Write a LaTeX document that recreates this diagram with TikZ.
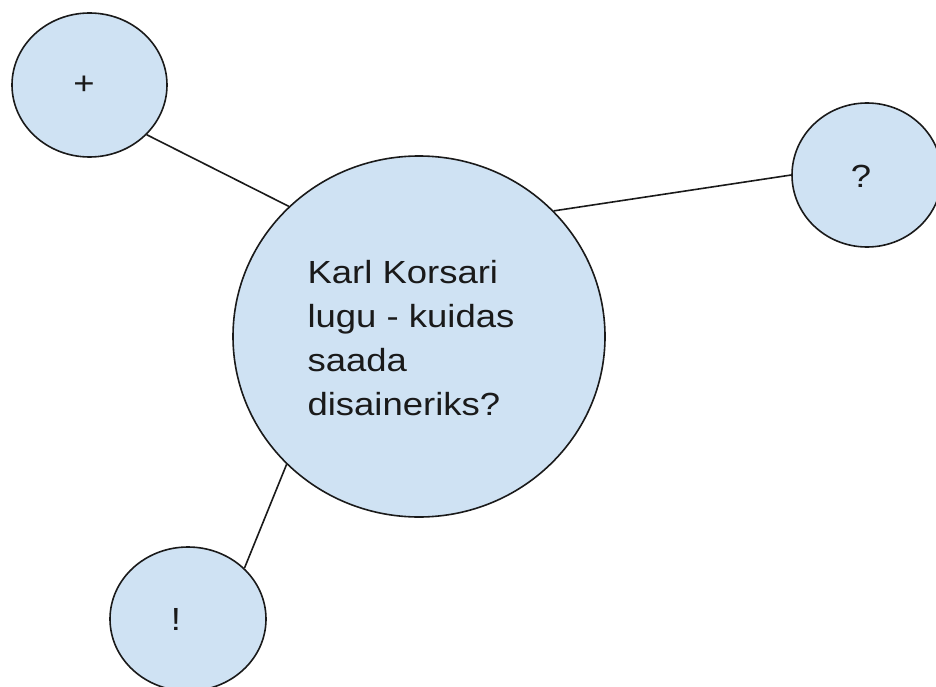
\documentclass[tikz,border=0pt]{standalone}
\usepackage{tikz}
\usepackage{xcolor}
\usepackage{fontspec}
\setmainfont{Liberation Sans}[FakeStretch=1.14]
\usetikzlibrary{shapes.geometric}
\definecolor{vdarkgray}{HTML}{1a1a1a}
\definecolor{vlightblue}{HTML}{cfe2f3}
\tikzset{
	bubble/.style={ellipse, draw=vdarkgray, fill=vlightblue, line width=1.6pt, inner sep=0pt},
	bubbletext/.style={font=\fontsize{32}{44}\selectfont, text=vdarkgray, inner sep=0pt},
	link/.style={color=vdarkgray, line width=1.6pt}
}

\begin{document}
\begin{tikzpicture}[x=1pt, y=-1pt]
		\useasboundingbox (0,0) rectangle (936,687);
		\node[bubble, minimum width=372pt, minimum height=361pt,
			label={[bubbletext, align=left, xshift=-8pt, yshift=-2pt]center:{Karl Korsari\\lugu - kuidas\\saada\\disaineriks?}}] (main) at (419,336.5) {};
		\node[bubble, minimum width=155pt, minimum height=144pt, label={[bubbletext, xshift=-5.5pt]center:+}] (plus) at (89.5,85) {};
		\node[bubble, minimum width=150pt, minimum height=144pt, label={[bubbletext, xshift=-6pt, yshift=-1pt]center:?}] (quest) at (867,175) {};
		\node[bubble, minimum width=156pt, minimum height=144pt, label={[bubbletext, xshift=-12pt]center:!}] (excl) at (188,619) {};
		\draw[link] (plus.-41.6) -- (main.135.8);
		\draw[link] (quest.180) -- (main.43.8);
		\draw[link] (excl.42.9) -- (main.224.2);
	\end{tikzpicture}
\end{document}
